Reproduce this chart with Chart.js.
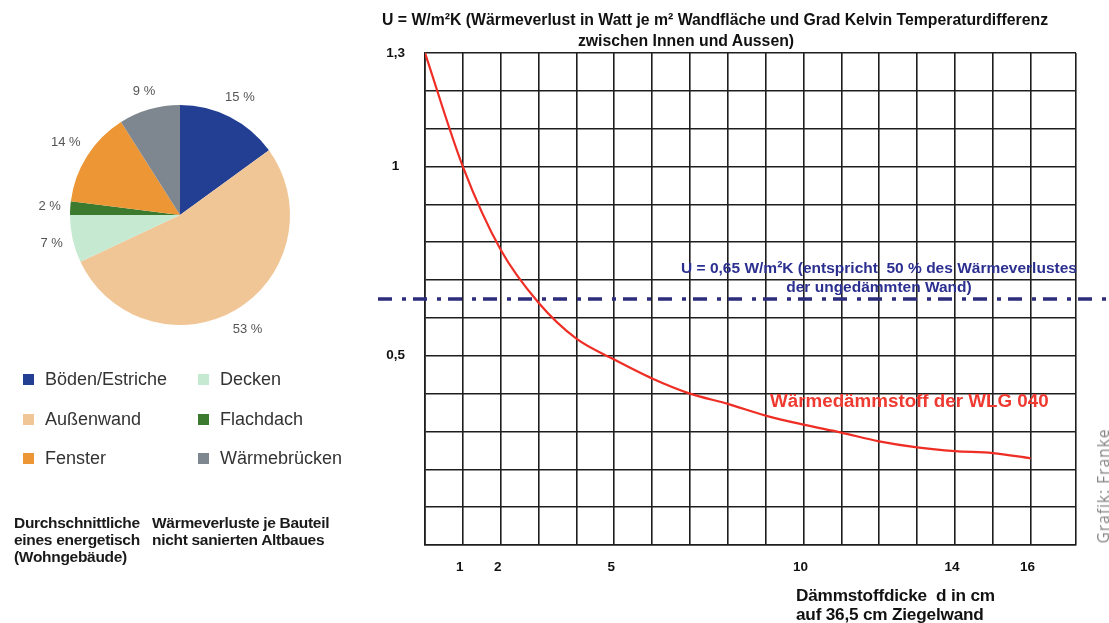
<!DOCTYPE html>
<html lang="de">
<head>
<meta charset="UTF-8" />
<title>Wärmeverluste Altbau / U-Wert Dämmstoffdicke</title>
<script src="https://cdn.jsdelivr.net/npm/chart.js"></script>
<style>
  html, body { margin:0; padding:0; background:#fff; }
  body { width:1109px; height:623px; position:relative; overflow:hidden; font-family:"Liberation Sans", Arial, sans-serif; }
  .abs { position:absolute; white-space:nowrap; }
  .narrow { font-family:"Liberation Sans Narrow", "Arial Narrow", "Liberation Sans", sans-serif; font-weight:bold; }
  #pieBox { position:absolute; left:0; top:60px; width:360px; height:310px; }
  #lineBox { position:absolute; left:370px; top:0; width:739px; height:623px; }
  .leg { position:absolute; font-size:18px; color:#333; line-height:20px; }
  .leg i { position:absolute; left:-22px; top:5px; width:11px; height:11px; }
  .cap { font-weight:bold; font-size:15.5px; color:#1a1a1a; line-height:17px; letter-spacing:-0.3px; }
</style>
</head>
<body>

<div id="pieBox"><canvas id="pie"></canvas></div>
<div id="legend"></div>

<div class="abs cap" style="left:14px;top:514px">Durchschnittliche<br>eines energetisch<br>(Wohngebäude)</div>
<div class="abs cap" style="left:152px;top:514px">Wärmeverluste je Bauteil<br>nicht sanierten Altbaues</div>

<div id="lineBox"><canvas id="line"></canvas></div>

<div class="abs narrow" style="left:382px;top:11px;font-size:15.8px;color:#111">U = W/m²K (Wärmeverlust in Watt je m² Wandfläche und Grad Kelvin Temperaturdifferenz</div>
<div class="abs narrow" style="left:686px;top:32px;font-size:15.8px;color:#111;transform:translateX(-50%)">zwischen Innen und Aussen)</div>

<div class="abs narrow" style="left:879px;top:258px;font-size:15.5px;color:#2b2f8f;text-align:center;line-height:19px;transform:translateX(-50%)">U = 0,65 W/m²K (entspricht&nbsp; 50 % des Wärmeverlustes<br>der ungedämmten Wand)</div>
<div class="abs" style="left:770px;top:390px;font-size:18.8px;font-weight:bold;color:#ee3a31">Wärmedämmstoff der WLG 040</div>

<div class="abs narrow" style="left:796px;top:586px;font-size:17.2px;color:#111;line-height:18.5px;letter-spacing:-0.2px">Dämmstoffdicke&nbsp; d in cm<br>auf 36,5 cm Ziegelwand</div>

<div class="abs" style="left:1103px;top:486px;font-size:15.5px;color:#858585;letter-spacing:1px;font-family:'Open Sans',sans-serif;transform:translate(-50%,-50%) rotate(-90deg)">Grafik: Franke</div>

<script>
// --- pie: heat losses per building part (%)
const pieLabels = ['Böden/Estriche', 'Außenwand', 'Decken', 'Flachdach', 'Fenster', 'Wärmebrücken'];
const pieValues = [15, 53, 7, 2, 14, 9];
const pieColors = ['#233f93', '#f1c697', '#c6e9d1', '#3c7b2f', '#ec9635', '#7e8690'];

// --- U-value vs insulation thickness
const thickness = [0, 1, 2, 3, 4, 5, 6, 7, 8, 9, 10, 11, 12, 13, 14, 15, 16];
const uValues = [1.3, 1.0, 0.78, 0.64, 0.545, 0.49, 0.44, 0.40, 0.373, 0.342, 0.318, 0.297, 0.274, 0.258, 0.248, 0.243, 0.229];
const uLimit = 0.65;
const xTickLabels = [1, 2, 5, 10, 14, 16];
const yTickLabels = [1.3, 1, 0.5];

// legend, two columns, filled top to bottom
const legendOrder = [0, 1, 4, 2, 3, 5];
const legEl = document.getElementById('legend');
legendOrder.forEach((idx, n) => {
  const col = Math.floor(n / 3), row = n % 3;
  const d = document.createElement('div');
  d.className = 'leg';
  d.style.left = (45 + col * 175) + 'px';
  d.style.top = (369 + row * 39.5) + 'px';
  d.innerHTML = `<i style="background:${pieColors[idx]}"></i>${pieLabels[idx]}`;
  legEl.appendChild(d);
});

// pie percent labels outside the slices
const pieLabelPlugin = {
  id: 'pieLabels',
  afterDatasetsDraw(chart) {
    const ctx = chart.ctx;
    ctx.save();
    ctx.font = '13px "Liberation Sans", Arial, sans-serif';
    ctx.fillStyle = '#555';
    ctx.textAlign = 'center';
    ctx.textBaseline = 'middle';
    chart.getDatasetMeta(0).data.forEach((arc, i) => {
      const a = (arc.startAngle + arc.endAngle) / 2;
      const w = ctx.measureText(pieValues[i] + ' %').width;
      const r = arc.outerRadius + 9 + Math.abs(Math.cos(a)) * w / 2 + Math.abs(Math.sin(a)) * 7;
      ctx.fillText(pieValues[i] + ' %', arc.x + Math.cos(a) * r, arc.y + Math.sin(a) * r);
    });
    ctx.restore();
  }
};

new Chart(document.getElementById('pie'), {
  type: 'pie',
  data: { labels: pieLabels, datasets: [{ data: pieValues, backgroundColor: pieColors, borderWidth: 0 }] },
  options: {
    responsive: true, maintainAspectRatio: false, animation: false,
    layout: { padding: { top: 45, bottom: 45, left: 70, right: 70 } },
    plugins: { legend: { display: false }, tooltip: { enabled: false } }
  },
  plugins: [pieLabelPlugin]
});

// dash-dot reference line across the whole width
const limitPlugin = {
  id: 'limitLine',
  afterDraw(chart) {
    const ctx = chart.ctx;
    const y = chart.scales.y.getPixelForValue(uLimit);
    ctx.save();
    ctx.strokeStyle = '#2d2c7c';
    ctx.lineWidth = 3.5;
    ctx.setLineDash([14, 10, 4, 7]);
    ctx.lineDashOffset = 29;
    ctx.beginPath();
    ctx.moveTo(2, y);
    ctx.lineTo(chart.width, y);
    ctx.stroke();
    ctx.restore();
  }
};

const gridCol = '#1e1e1e';
const tickFont = { family: '"Liberation Sans", Arial, sans-serif', size: 13.5, weight: 'bold' };

new Chart(document.getElementById('line'), {
  type: 'line',
  data: {
    datasets: [{
      data: thickness.map((d, i) => ({ x: d, y: uValues[i] })),
      borderColor: '#ee2e24', borderWidth: 2.2, pointRadius: 0,
      cubicInterpolationMode: 'monotone', fill: false
    }]
  },
  options: {
    responsive: true, maintainAspectRatio: false, animation: false,
    layout: { padding: { top: 53, right: 33, left: 0, bottom: 0 } },
    plugins: { legend: { display: false }, tooltip: { enabled: false } },
    scales: {
      x: {
        type: 'linear', min: 0, max: 17.2,
        afterFit: s => { s.height = 78; },
        grid: { color: c => (c.tick && c.tick.value === 17) ? 'rgba(0,0,0,0)' : gridCol, lineWidth: 1.6, drawTicks: false },
        border: { color: gridCol, width: 1.6 },
        ticks: {
          stepSize: 1, autoSkip: false, maxRotation: 0, padding: 14, labelOffset: -3,
          color: '#111', font: tickFont,
          callback: v => xTickLabels.includes(v) ? String(v) : ''
        }
      },
      y: {
        min: 0, max: 1.3,
        afterFit: s => { s.width = 55; },
        grid: { color: gridCol, lineWidth: 1.6, drawTicks: false },
        border: { color: gridCol, width: 1.6 },
        ticks: {
          stepSize: 0.1, autoSkip: false, crossAlign: 'center', padding: 20,
          color: '#111', font: tickFont,
          callback: v => {
            const m = yTickLabels.find(t => Math.abs(t - v) < 1e-6);
            return m === undefined ? '' : String(m).replace('.', ',');
          }
        }
      }
    }
  },
  plugins: [limitPlugin]
});
</script>
</body>
</html>
